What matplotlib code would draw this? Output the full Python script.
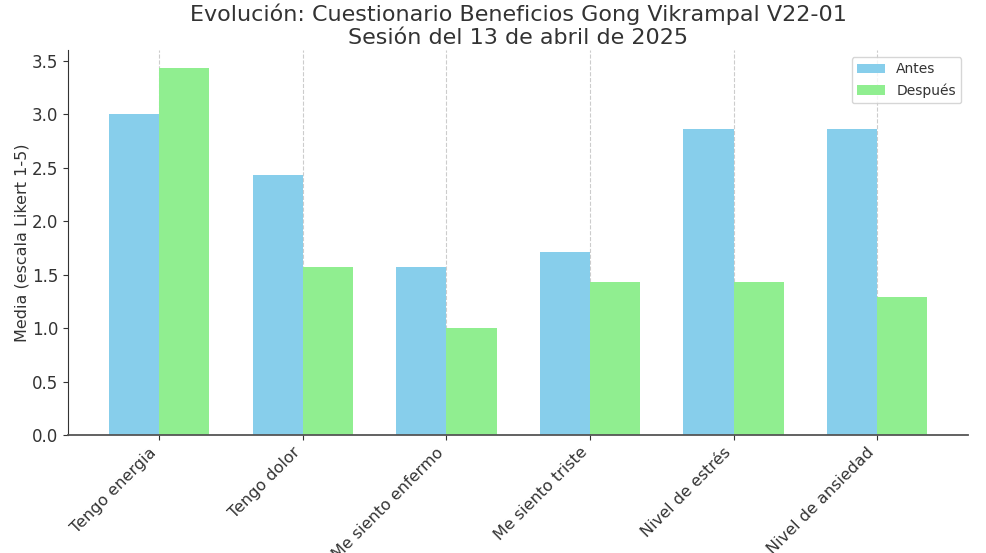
import matplotlib
matplotlib.use("Agg")
import matplotlib.pyplot as plt
import numpy as np

CATEGORIES = ["Tengo energia", "Tengo dolor", "Me siento enfermo",
              "Me siento triste", "Nivel de estrés", "Nivel de ansiedad"]
ANTES = [3.00, 2.43, 1.57, 1.71, 2.86, 2.86]
DESPUES = [3.43, 1.57, 1.00, 1.43, 1.43, 1.29]

TXT = "#333333"
plt.rcParams["text.color"] = TXT
plt.rcParams["axes.labelcolor"] = TXT
plt.rcParams["xtick.color"] = TXT
plt.rcParams["ytick.color"] = TXT

fig = plt.figure(figsize=(9.86, 5.53), dpi=100)
ax = fig.add_axes([0.069, 0.2134, 0.913, 0.6962])

x = np.arange(len(CATEGORIES))
w = 0.35
ax.bar(x - w / 2, ANTES, width=w, color="skyblue", label="Antes")
ax.bar(x + w / 2, DESPUES, width=w, color="lightgreen", label="Después")

ax.set_xticks(x)
ax.set_xticklabels(CATEGORIES, rotation=45, ha="right", fontsize=11.5)
ax.tick_params(axis="y", labelsize=12)
ax.set_ylabel("Media (escala Likert 1-5)", fontsize=11.5, labelpad=2)
ax.set_title("Evolución: Cuestionario Beneficios Gong Vikrampal V22-01\n"
             "Sesión del 13 de abril de 2025", fontsize=16, pad=4,
             linespacing=1.2)
ax.grid(axis="x", linestyle="--", color="#cccccc", linewidth=0.8)
ax.set_axisbelow(True)
for s in ("top", "right"):
    ax.spines[s].set_visible(False)
ax.spines["left"].set_color("#333333")
ax.spines["bottom"].set_color("#555555")
ax.spines["bottom"].set_linewidth(1.3)
ax.legend(loc="upper right", fontsize=10)

fig.savefig("out.png", dpi=100)
